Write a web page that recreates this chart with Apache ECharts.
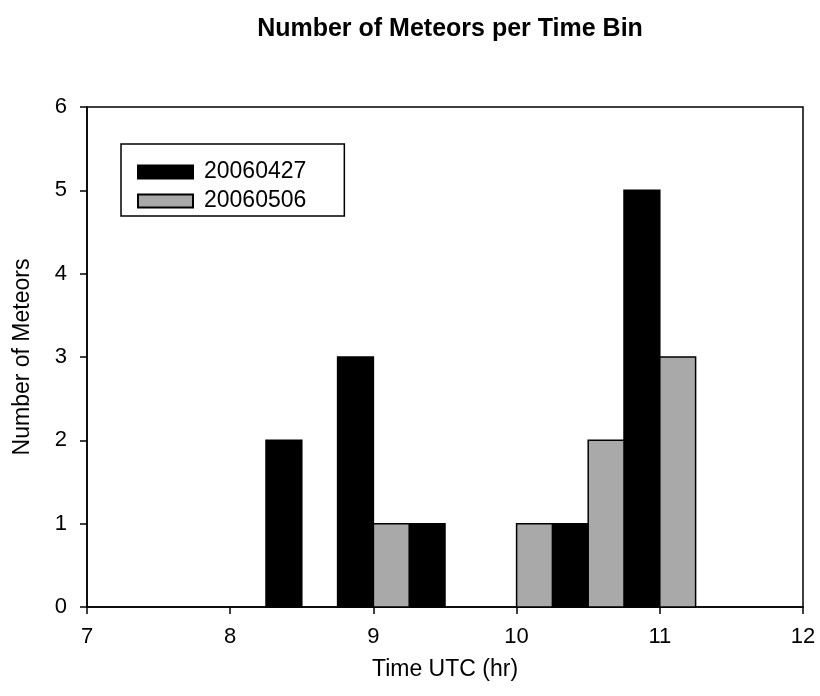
<!DOCTYPE html>
<html>
<head>
<meta charset="utf-8">
<script src="https://cdn.jsdelivr.net/npm/echarts@6/dist/echarts.min.js"></script>
<style>
  html, body { margin: 0; padding: 0; background: #fff; }
  #chart { width: 820px; height: 696px; }
</style>
</head>
<body>
<div id="chart"></div>
<script>
// ---- data ----
const binCenters = [8.5, 9, 9.5, 10, 10.5, 11];
const binWidth = 0.5;
const seriesNames = ['20060427', '20060506'];
const counts20060427 = [2, 3, 1, 0, 1, 5];
const counts20060506 = [0, 1, 0, 1, 2, 3];
const xTicks = [7, 8, 9, 10, 11, 12];
const yTicks = [0, 1, 2, 3, 4, 5, 6];

const FONT = '"Liberation Sans", Arial, sans-serif';
const chart = echarts.init(document.getElementById('chart'), null, { renderer: 'canvas' });

function makeRender(side) {
  return function (params, api) {
    const center = api.value(0);
    const val = api.value(1);
    if (!val) return null;
    const x0 = side === 0 ? center - binWidth / 2 : center;
    const x1 = side === 0 ? center : center + binWidth / 2;
    const p0 = api.coord([x0, val]);
    const p1 = api.coord([x1, 0]);
    return {
      type: 'rect',
      shape: { x: p0[0], y: p0[1], width: p1[0] - p0[0], height: p1[1] - p0[1] },
      style: { fill: api.visual('color'), stroke: '#000', lineWidth: 1.5 }
    };
  };
}

const option = {
  animation: false,
  backgroundColor: '#fff',
  title: {
    text: 'Number of Meteors per Time Bin',
    left: 445,
    top: 12,
    textAlign: 'center',
    textStyle: { fontFamily: FONT, fontSize: 25, fontWeight: 'bold', color: '#000' }
  },
  legend: {
    orient: 'vertical',
    left: 121,
    top: 144,
    padding: [16, 38, 3, 16],
    itemGap: 5,
    itemWidth: 55,
    itemHeight: 13,
    icon: 'rect',
    borderColor: '#000',
    borderWidth: 1.5,
    backgroundColor: '#fff',
    textStyle: { fontFamily: FONT, fontSize: 23, lineHeight: 24, color: '#000', padding: [0, 0, 0, 6] },
    data: seriesNames
  },
  grid: {
    left: 87, right: 17, top: 107, bottom: 89,
    show: true, borderColor: '#000', borderWidth: 1.5
  },
  xAxis: {
    type: 'value',
    min: xTicks[0], max: xTicks[xTicks.length - 1], interval: 1,
    name: 'Time UTC (hr)',
    nameLocation: 'middle',
    nameGap: 51,
    nameTextStyle: { fontFamily: FONT, fontSize: 23, color: '#000' },
    axisLine: { show: true, lineStyle: { color: '#000', width: 1.5 } },
    axisTick: { show: true, inside: false, length: 7, lineStyle: { color: '#000', width: 1.5 } },
    axisLabel: { fontFamily: FONT, fontSize: 22, color: '#000', margin: 19 },
    splitLine: { show: false }
  },
  yAxis: {
    type: 'value',
    min: yTicks[0], max: yTicks[yTicks.length - 1], interval: 1,
    name: 'Number of Meteors',
    nameLocation: 'middle',
    nameGap: 53,
    nameRotate: 90,
    nameTextStyle: { fontFamily: FONT, fontSize: 23, color: '#000' },
    axisLine: { show: true, lineStyle: { color: '#000', width: 1.5 } },
    axisTick: { show: true, inside: false, length: 7, lineStyle: { color: '#000', width: 1.5 } },
    axisLabel: { fontFamily: FONT, fontSize: 22, color: '#000', margin: 20 },
    splitLine: { show: false }
  },
  series: [
    {
      name: seriesNames[0],
      type: 'custom',
      itemStyle: { color: '#000', borderColor: '#000', borderWidth: 1 },
      renderItem: makeRender(0),
      encode: { x: 0, y: 1 },
      data: binCenters.map((c, i) => [c, counts20060427[i]])
    },
    {
      name: seriesNames[1],
      type: 'custom',
      itemStyle: { color: '#a9a9a9', borderColor: '#000', borderWidth: 1 },
      renderItem: makeRender(1),
      encode: { x: 0, y: 1 },
      data: binCenters.map((c, i) => [c, counts20060506[i]])
    }
  ]
};
chart.setOption(option);
</script>
</body>
</html>
